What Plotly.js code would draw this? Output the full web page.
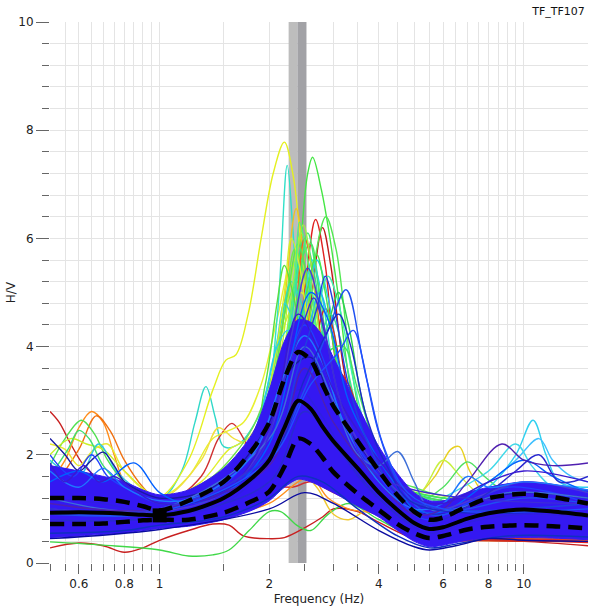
<!DOCTYPE html>
<html>
<head>
<meta charset="utf-8">
<script src="https://cdn.plot.ly/plotly-3.0.1.min.js"></script>
<style>html,body{margin:0;padding:0;background:#fff}#chart{width:589px;height:613px}</style>
</head>
<body>
<div id="chart"></div>
<script>
// ---------------- DATA ----------------
const chartTitle = 'TF_TF107';
const xTickVals = [0.6, 0.8, 1, 2, 4, 6, 8, 10];
const xTickText = ['0.6', '0.8', '1', '2', '4', '6', '8', '10'];
const xMinorVals = [0.5,0.55,0.6,0.65,0.7,0.75,0.8,0.85,0.9,0.95,1,1.5,2,2.5,3,3.5,4,4.5,5,5.5,6,6.5,7,7.5,8,8.5,9,9.5,10];
const yTickVals = [0, 2, 4, 6, 8, 10];

// peak frequency and its standard deviation band (Hz)
const f0 = 2.39;
const f0Min = 2.26;
const f0Max = 2.53;

// average curve and +/- std curves
const statF     = [0.5,0.6,0.7,0.8,0.9,1.0,1.2,1.5,1.8,2.0,2.2,2.4,2.6,2.8,3.0,3.5,4.0,4.5,5.0,5.5,6.0,7.0,8.0,10,12,15];
const meanV     = [0.93,0.94,0.93,0.91,0.89,0.88,0.96,1.2,1.58,1.9,2.5,3.0,2.85,2.52,2.25,1.75,1.3,0.98,0.74,0.63,0.66,0.82,0.92,0.99,0.95,0.88];
const stdUpperV = [1.2,1.2,1.18,1.13,1.05,0.97,1.15,1.5,2.1,2.6,3.4,3.9,3.75,3.3,2.9,2.25,1.7,1.25,0.95,0.8,0.84,1.05,1.2,1.28,1.22,1.1];
const stdLowerV = [0.72,0.72,0.73,0.76,0.79,0.8,0.8,0.93,1.15,1.32,1.78,2.3,2.2,1.95,1.68,1.28,0.98,0.72,0.55,0.46,0.5,0.62,0.67,0.7,0.68,0.64];
const markerF = [1.0];
const markerV = [0.88];

// envelope of the dense cloud of window curves
const bandUpperV = [1.8,1.7,1.6,1.5,1.35,1.26,1.35,1.75,2.4,3.2,4.1,4.5,4.45,4.2,3.8,2.9,2.15,1.65,1.3,1.15,1.15,1.3,1.4,1.5,1.45,1.35];
const bandLowerV = [0.47,0.5,0.53,0.56,0.6,0.64,0.68,0.8,0.98,1.15,1.4,1.55,1.5,1.4,1.3,1.05,0.85,0.6,0.4,0.3,0.33,0.42,0.46,0.47,0.46,0.43];

// individual window curves: [frequency, H/V]
const peakCurves = [
  [[0.5,1.0],[0.8,1.1],[1.0,1.2],[1.2,1.9],[1.4,3.2],[1.52,3.75],[1.62,3.85],[1.75,4.6],[1.9,6.0],[2.05,7.2],[2.2,7.78],[2.32,7.2],[2.45,5.8],[2.6,3.6],[2.8,2.0],[3.1,1.4],[4,1.1],[5,0.8],[6,0.85],[8,1.0],[10,0.95],[15,0.85]],
  [[0.5,0.9],[1,0.9],[1.5,1.0],[2,1.4],[2.25,2.0],[2.35,3.5],[2.45,6.0],[2.55,7.2],[2.63,7.5],[2.78,6.9],[2.92,6.1],[3.1,4.9],[3.4,3.0],[4,1.6],[5,1.0],[6,0.9],[8,1.1],[10,1.1],[15,1.0]],
  [[0.5,1.0],[1,1.0],[1.5,1.3],[1.9,2.4],[2.1,4.5],[2.24,7.35],[2.32,6.2],[2.45,4.0],[2.7,2.8],[3,2.0],[4,1.2],[5,0.8],[8,1.0],[15,1.0]],
  [[0.5,0.8],[1,0.8],[1.5,0.9],[2,1.6],[2.3,3.0],[2.5,5.0],[2.68,6.35],[2.85,5.5],[3.0,4.0],[3.3,2.6],[4,1.3],[5,0.6],[6,0.5],[8,0.5],[10,0.5],[15,0.45]],
  [[0.5,0.8],[1,0.85],[2,1.7],[2.4,3.0],[2.6,4.8],[2.8,6.2],[2.95,5.5],[3.2,3.6],[3.6,2.0],[4,1.4],[5,0.6],[6,0.5],[10,0.5],[15,0.45]],
  [[0.5,1.0],[1,0.95],[2,1.6],[2.4,3.2],[2.65,5.5],[2.86,6.4],[3.05,5.8],[3.3,4.0],[3.6,2.5],[4,1.6],[5,0.9],[6,0.9],[8,1.1],[15,1.0]],
  [[0.5,1.0],[1,1.0],[1.6,1.3],[2.0,2.6],[2.2,4.8],[2.37,6.55],[2.5,5.5],[2.7,3.2],[3,2.0],[4,1.2],[5,0.8],[15,0.8]],
  [[0.5,1.1],[1,1.0],[1.7,1.6],[2.1,3.0],[2.35,5.2],[2.5,6.0],[2.65,5.4],[2.9,3.6],[3.3,2.2],[4,1.3],[5,0.9],[10,1.0],[15,0.9]],
  [[0.5,1.2],[1,1.05],[1.6,1.5],[2.0,3.0],[2.2,4.6],[2.35,5.8],[2.5,5.3],[2.7,3.8],[3,2.6],[4,1.4],[5,1.0],[15,1.0]],
  [[0.5,0.9],[1,0.9],[1.8,1.6],[2.2,3.0],[2.5,4.6],[2.7,5.6],[2.9,4.9],[3.2,3.2],[3.6,2.0],[4.5,1.2],[6,0.9],[15,1.0]],
  [[0.5,1.0],[1,1.0],[1.7,1.7],[2.1,3.5],[2.3,5.3],[2.45,6.1],[2.6,5.2],[2.8,3.6],[3.2,2.1],[4,1.2],[15,0.9]],
  [[0.5,1.0],[1,0.95],[2,1.9],[2.4,3.3],[2.7,4.6],[2.9,5.3],[3.1,4.8],[3.4,3.4],[3.8,2.2],[4.5,1.3],[6,0.9],[15,1.0]],
  [[0.5,0.9],[1,0.9],[2,1.8],[2.5,3.2],[2.9,4.4],[3.1,5.0],[3.3,4.4],[3.6,3.0],[4,2.0],[4.6,1.4],[5.5,1.2],[7,1.1],[15,1.0]],
  [[0.5,1.1],[1,1.0],[1.8,1.9],[2.2,3.8],[2.45,5.6],[2.6,5.9],[2.75,5.0],[3.0,3.4],[3.5,2.2],[4.2,1.6],[5,1.4],[5.5,1.3],[6.5,1.2],[15,1.0]],
  [[0.5,1.0],[1,1.0],[1.9,2.0],[2.25,4.0],[2.45,5.6],[2.6,5.1],[2.9,3.6],[3.3,2.6],[4,1.7],[5,1.3],[6,1.2],[15,1.0]],
  [[0.5,0.85],[1,0.85],[2,1.7],[2.3,3.8],[2.5,6.0],[2.65,5.2],[2.85,3.6],[3.2,2.2],[4,1.1],[5,0.6],[15,0.5]],
  [[0.5,0.9],[1,0.9],[2,1.7],[2.5,3.2],[2.85,4.7],[3.0,4.3],[3.3,2.8],[4,1.3],[5,0.55],[6,0.45],[15,0.4]],
  [[0.5,1.0],[1,1.0],[1.8,1.8],[2.2,3.6],[2.4,5.0],[2.55,6.1],[2.7,5.3],[2.9,3.6],[3.3,2.2],[4,1.4],[5,1.0],[15,1.0]],
  [[0.5,1.0],[1,1.0],[1.7,1.7],[2.05,3.4],[2.25,5.0],[2.4,5.9],[2.55,5.2],[2.75,3.6],[3.1,2.2],[4,1.3],[15,1.0]],
  [[0.5,1.0],[1,1.0],[1.9,1.9],[2.3,3.6],[2.5,4.9],[2.62,5.6],[2.78,5.0],[3.0,3.6],[3.4,2.3],[4,1.5],[5,1.1],[15,1.0]],
  [[0.5,1.0],[1,1.0],[1.7,1.8],[2.0,3.2],[2.15,4.4],[2.3,5.2],[2.45,4.8],[2.7,3.4],[3.1,2.1],[4,1.2],[15,1.0]],
  [[0.5,1.0],[1,1.0],[1.8,1.8],[2.15,3.6],[2.35,5.4],[2.48,6.25],[2.62,5.4],[2.8,3.8],[3.2,2.2],[4,1.3],[15,0.95]],
  [[0.5,1.0],[1,1.0],[2.0,2.0],[2.4,3.6],[2.6,4.5],[2.75,5.0],[2.95,4.3],[3.3,2.8],[3.8,1.8],[4.6,1.2],[15,1.0]],
  [[0.5,1.0],[1,1.0],[1.7,1.9],[1.95,3.1],[2.1,4.1],[2.2,4.8],[2.35,4.4],[2.6,3.3],[3.0,2.2],[4,1.3],[15,1.0]],
  [[0.5,1.0],[1,1.0],[2.0,2.1],[2.35,3.9],[2.55,5.1],[2.7,5.7],[2.85,5.0],[3.1,3.5],[3.5,2.3],[4.2,1.5],[15,1.0]],
  [[0.5,1.0],[1,1.0],[1.8,2.0],[2.05,3.6],[2.2,5.0],[2.3,6.0],[2.42,5.5],[2.6,4.0],[2.9,2.6],[3.5,1.7],[15,0.95]],
  [[0.5,1.0],[1,1.0],[2.1,2.2],[2.5,3.5],[2.8,4.3],[2.95,4.6],[3.15,4.1],[3.5,2.8],[4,1.9],[4.8,1.3],[15,1.0]],
  [[0.5,1.0],[1,1.0],[1.9,2.0],[2.2,3.9],[2.35,5.2],[2.42,6.3],[2.55,5.6],[2.75,3.9],[3.1,2.3],[4,1.3],[15,1.0]],
  [[0.5,1.0],[1,1.0],[2,1.8],[2.5,3.0],[2.9,3.9],[3.2,4.0],[3.5,3.2],[4,2.0],[4.6,1.4],[5.5,1.2],[15,1.0]],
  [[0.5,0.8],[1,0.8],[2,1.5],[2.6,3.0],[3.0,3.6],[3.3,3.3],[3.7,2.2],[4.2,1.4],[5,0.7],[15,0.45]],
  [[0.5,1.0],[1,1.0],[1.6,1.6],[1.9,2.8],[2.1,4.0],[2.25,4.3],[2.4,3.8],[2.7,2.8],[3.2,1.8],[4,1.2],[15,1.0]],
  [[0.5,1.0],[1,1.0],[1.7,1.8],[1.95,3.3],[2.1,4.8],[2.2,5.5],[2.32,5.0],[2.5,3.8],[2.9,2.4],[4,1.3],[15,1.0]]
];
const lowCurves = [
  [[0.5,2.8],[0.53,2.6],[0.57,2.2],[0.62,1.8],[0.7,1.5],[0.8,1.3],[1,1.1],[1.5,1.3],[2,1.8],[2.5,3.0],[3,2.3],[4,1.2],[5,0.6],[6,0.5],[10,0.45],[15,0.4]],
  [[0.5,1.5],[0.55,1.9],[0.6,2.5],[0.65,2.8],[0.7,2.6],[0.75,2.0],[0.8,1.5],[0.9,1.2],[1,1.1],[1.5,1.2],[2,1.8],[2.5,3.0],[3,2.2],[4,1.1],[5,0.6],[6,0.5],[10,0.5],[15,0.45]],
  [[0.5,1.3],[0.6,2.1],[0.67,2.72],[0.73,2.45],[0.8,1.9],[0.9,1.4],[1,1.15],[1.5,1.15],[2,1.7],[2.5,2.8],[3,2.1],[4,1.0],[5,0.55],[15,0.45]],
  [[0.5,1.8],[0.55,2.3],[0.61,2.64],[0.66,2.4],[0.72,1.9],[0.8,1.5],[1,1.15],[1.5,1.2],[2,2.0],[2.5,3.6],[3,2.6],[4,1.4],[5,0.9],[15,0.9]],
  [[0.5,2.0],[0.57,2.3],[0.63,2.2],[0.7,2.1],[0.8,1.7],[1,1.2],[1.5,1.3],[2,2.2],[2.5,4.0],[3,2.8],[4,1.4],[5,0.9],[15,0.9]],
  [[0.5,2.2],[0.55,2.1],[0.6,1.8],[0.66,2.1],[0.72,2.2],[0.8,1.7],[1,1.2],[1.5,1.4],[2,2.4],[2.5,3.8],[3,2.6],[4,1.3],[5,0.9],[15,0.9]],
  [[0.5,1.9],[0.6,1.6],[0.68,2.2],[0.76,1.7],[0.85,1.4],[1,1.15],[1.5,1.3],[2,2.2],[2.5,3.8],[3,2.7],[4,1.5],[5,1.0],[15,1.0]],
  [[0.5,1.6],[0.56,2.1],[0.6,2.45],[0.64,2.3],[0.7,1.8],[0.8,1.4],[1,1.1],[1.5,1.25],[2,2.1],[2.5,3.4],[3,2.5],[4,1.3],[5,0.9],[15,0.9]],
  [[0.5,0.28],[0.6,0.37],[0.7,0.32],[0.8,0.2],[0.9,0.28],[1.0,0.42],[1.2,0.6],[1.4,0.72],[1.55,0.7],[1.7,0.5],[2.0,0.45],[2.2,0.47],[2.5,0.65],[2.8,0.85],[3.0,1.0],[3.5,0.95],[4,0.75],[5,0.45],[6,0.4],[8,0.42],[10,0.4],[15,0.32]],
  [[0.5,0.39],[0.7,0.33],[1.0,0.24],[1.2,0.13],[1.4,0.15],[1.55,0.24],[1.76,0.6],[2.0,0.95],[2.15,0.95],[2.4,0.68],[2.6,0.6],[2.9,0.9],[3.3,1.1],[4,0.8],[5,0.5],[6,0.5],[8,0.55],[15,0.5]]
];
const midCurves = [
  [[0.5,1.2],[0.8,1.1],[1.0,1.15],[1.15,1.7],[1.25,2.6],[1.34,3.26],[1.42,2.7],[1.5,2.15],[1.65,2.2],[1.9,2.8],[2.2,4.0],[2.5,4.5],[2.8,3.5],[3.2,2.2],[4,1.3],[5,0.8],[8,1.0],[15,0.95]],
  [[0.5,1.0],[1,1.05],[1.3,1.6],[1.45,2.3],[1.58,2.58],[1.7,2.3],[1.85,1.8],[2.0,1.5],[2.3,1.4],[2.6,1.5],[3,1.3],[4,0.9],[5,0.5],[8,0.45],[15,0.4]],
  [[0.5,1.1],[1,1.2],[1.2,1.6],[1.4,2.3],[1.55,2.45],[1.7,2.6],[1.9,3.3],[2.1,4.5],[2.3,5.5],[2.5,5.0],[2.7,3.5],[3,2.0],[4,1.1],[5,0.8],[15,0.8]],
  [[0.5,1.0],[1,1.15],[1.3,1.9],[1.45,2.5],[1.6,2.3],[1.8,2.2],[2.0,2.8],[2.3,4.4],[2.5,4.6],[2.8,3.2],[3.2,1.8],[4,1.1],[15,0.8]],
  [[0.5,0.8],[1,0.85],[1.5,0.9],[2,1.1],[2.4,1.5],[2.6,1.6],[2.9,1.2],[3.3,1.0],[4,0.9],[5,0.6],[15,0.5]],
  [[0.5,0.9],[1,0.9],[1.6,1.0],[2.0,1.3],[2.4,1.7],[2.7,1.4],[3.0,0.9],[3.3,0.8],[3.8,1.0],[4.5,0.8],[6,0.6],[15,0.6]],
  [[0.5,1.0],[1,1.1],[1.3,1.5],[1.55,2.1],[1.75,2.3],[1.95,2.9],[2.2,4.4],[2.45,5.0],[2.7,3.6],[3,2.3],[4,1.2],[15,0.9]],
  [[0.5,1.0],[1,1.1],[1.4,1.6],[1.6,2.0],[1.8,2.5],[2.0,3.3],[2.3,5.0],[2.5,5.3],[2.8,3.5],[3.2,2.0],[4,1.2],[15,0.9]]
];
const rightCurves = [
  [[0.5,1.0],[1,1.0],[2,1.8],[2.5,3.0],[3,2.5],[3.5,1.8],[4,1.3],[4.5,1.1],[5,1.2],[5.7,1.6],[6.3,2.1],[6.65,2.15],[7.1,1.7],[8,1.2],[10,1.1],[15,1.0]],
  [[0.5,1.0],[1,1.0],[2,1.7],[2.5,3.2],[3,2.4],[4,1.3],[4.5,1.2],[5.2,1.3],[6.0,1.9],[6.7,1.6],[7.5,1.3],[10,1.2],[15,1.1]],
  [[0.5,1.0],[1,1.0],[2,1.9],[2.5,3.4],[3,2.5],[4,1.4],[5,1.1],[6,1.4],[7,1.87],[7.8,1.6],[9,1.3],[15,1.1]],
  [[0.5,1.0],[1,1.0],[2,1.6],[2.5,2.8],[3,2.2],[4,1.3],[5,0.9],[6,1.0],[8,1.4],[9.5,2.0],[10.6,2.64],[11.5,2.0],[12.5,1.5],[15,1.4]],
  [[0.5,1.0],[1,1.0],[2,1.7],[2.5,3.0],[3,2.3],[4,1.3],[5,0.9],[6,1.1],[8,1.5],[9.5,1.9],[11,2.3],[12,1.9],[13.5,1.6],[15,1.5]],
  [[0.5,1.0],[1,1.0],[2,1.6],[2.5,2.9],[3,2.2],[4,1.2],[5,0.9],[6,1.2],[8,1.7],[9.5,2.2],[10.5,1.8],[12,1.4],[15,1.3]],
  [[0.5,0.8],[1,0.8],[2,1.3],[2.5,2.2],[3,1.6],[4,0.9],[5,0.5],[5.5,0.45],[7,0.45],[10,0.42],[15,0.38]],
  [[0.5,0.8],[1,0.8],[2,1.4],[2.5,2.4],[3,1.7],[4,0.95],[5,0.55],[6,0.5],[8,0.5],[10,0.47],[15,0.42]]
];
const blueCurves = [
  [[0.5,2.3],[0.55,2.0],[0.6,1.7],[0.65,1.9],[0.7,2.05],[0.75,1.8],[0.8,1.5],[0.9,1.3],[1.0,1.2],[1.3,1.3],[1.6,1.7],[2.0,2.6],[2.3,3.6],[2.6,3.8],[3.0,2.9],[4,1.7],[5,1.0],[6,0.9],[8,1.2],[10,1.3],[15,1.2]],
  [[0.5,2.0],[0.58,1.6],[0.65,2.0],[0.72,1.6],[0.8,1.4],[1.0,1.1],[1.3,1.2],[1.7,1.8],[2.1,3.0],[2.5,4.4],[2.8,3.8],[3.2,2.6],[4,1.6],[5,0.9],[5.5,0.8],[7,1.1],[9,1.4],[12,1.3],[15,1.1]],
  [[0.5,1.5],[0.6,1.7],[0.7,1.5],[0.85,1.85],[1.0,1.3],[1.2,1.1],[1.6,1.4],[2.0,2.2],[2.6,5.0],[2.9,4.5],[3.3,3.0],[4,1.9],[4.5,1.4],[5,1.0],[6,0.95],[8,1.5],[10,1.9],[12,1.6],[15,1.3]],
  [[0.5,1.2],[0.7,1.1],[1,0.9],[1.5,1.1],[2,1.9],[2.4,3.2],[2.8,2.7],[3.5,1.6],[4.5,0.9],[5.5,0.55],[7,0.75],[10,0.9],[15,0.85]],
  [[0.5,0.55],[0.8,0.6],[1,0.7],[1.5,0.85],[2,1.2],[2.4,1.6],[2.8,1.5],[3.5,1.0],[4.5,0.5],[5.5,0.28],[6.5,0.35],[9,0.5],[15,0.48]],
  [[0.5,1.0],[1,0.95],[1.5,1.3],[2,2.4],[2.3,4.2],[2.55,5.45],[2.8,4.5],[3.2,2.8],[4,1.7],[5,1.1],[6,1.0],[8,1.3],[10,1.5],[15,1.3]],
  [[0.5,0.9],[1,0.9],[1.5,1.2],[2,1.9],[2.5,3.2],[2.9,4.3],[3.25,5.05],[3.6,3.8],[4,2.4],[4.6,1.4],[5.5,0.9],[7,1.0],[10,1.2],[15,1.1]],
  [[0.5,1.2],[1,1.0],[2,2.3],[2.5,4.0],[3.0,3.0],[3.5,2.0],[4.0,1.8],[4.5,2.06],[5.0,1.5],[5.5,1.0],[6.5,1.0],[9,1.3],[15,1.2]],
  [[0.5,1.1],[1,1.0],[2,1.8],[2.5,3.6],[3,2.6],[4,1.5],[5,0.9],[6,1.0],[7,1.5],[8.7,2.2],[10,1.9],[12,1.8],[15,1.85]],
  [[0.5,0.8],[1,0.85],[2,1.5],[2.5,2.8],[3,2.2],[4,1.2],[5,0.7],[6,0.8],[8,1.3],[9.5,1.7],[11,2.0],[12.5,1.5],[15,1.6]],
  [[0.5,0.45],[1,0.62],[2,1.0],[2.5,1.3],[3,1.1],[4,0.6],[5,0.3],[5.5,0.24],[6.5,0.32],[8,0.45],[10,0.42],[15,0.4]],
  [[0.5,1.7],[0.6,1.4],[0.7,1.75],[0.8,1.4],[1,1.15],[1.3,1.25],[1.8,2.0],[2.2,3.5],[2.5,4.2],[2.8,3.7],[3.2,2.6],[4,1.5],[5,1.0],[6,1.1],[7,1.6],[8,1.4],[10,1.5],[15,1.35]],
  [[0.5,1.85],[0.55,1.5],[0.62,1.8],[0.68,1.5],[0.75,1.6],[0.85,1.35],[1,1.1],[1.5,1.3],[2,2.5],[2.4,4.6],[2.7,4.0],[3.0,3.2],[4,1.9],[5,1.2],[6,1.1],[8,1.5],[10,1.7],[15,1.5]],
  [[0.5,1.0],[1,1.0],[2,2.0],[2.4,3.6],[2.7,4.7],[2.85,5.3],[3.0,4.8],[3.3,3.3],[3.8,2.1],[4.5,1.3],[6,1.0],[15,1.1]],
  [[0.5,1.0],[1,0.95],[2,1.9],[2.5,3.4],[2.85,4.2],[3.1,4.6],[3.35,4.0],[3.7,2.7],[4.2,1.8],[5,1.1],[15,1.0]],
  [[0.5,1.0],[1,1.0],[1.8,1.8],[2.2,3.4],[2.5,4.5],[2.65,4.9],[2.85,4.2],[3.2,2.8],[4,1.6],[15,1.1]],
  [[0.5,0.95],[1,0.95],[2,1.9],[2.6,3.3],[3.1,3.9],[3.4,4.3],[3.7,3.4],[4.1,2.2],[4.8,1.3],[6,1.0],[15,1.0]]
];

// ---------------- STYLE ----------------
const peakColors  = ['#e4f020','#44e644','#30e0c8','#e02020','#c01818','#52e852','#f0c020','#30e090','#70f040','#20c8f0','#b8f030','#40f0b0','#30d050','#58e858','#38e0a8','#f06018','#d03020',
                     '#40e870','#60e050','#30d8d0','#30e0b0','#a0f040','#20b8f0','#30d0e0','#48e848','#d8f028','#40e090','#50f080','#48e060','#d82828','#28d0e8','#58e040'];
const lowColors   = ['#c82020','#ff8c1a','#f07010','#50e050','#c8f028','#e8e830','#30c8e0','#40e070','#c82020','#40d848'];
const midColors   = ['#30d8c8','#d03030','#e8f030','#f0e040','#ff9020','#f0c830','#e0f030','#70e050'];
const rightColors = ['#e8d020','#c8f040','#50e060','#30d0f0','#40c0ff','#40d8e8','#e02020','#ff7020'];
const blueColors  = ['#1a1aa0','#2040ff','#0060ff','#3020e0','#1030c0','#4a3ad8','#2050f0','#3d6fd8','#5020b0','#2a2ad0','#0a0aa0','#1e78ff','#3a1ad0','#2040e0','#1a28c8','#3c2cd8','#2050ff'];
const bandColor = '#3418f2';
const FONT = 'DejaVu Sans, Verdana, sans-serif';

const traces = [];
function addCurves(list, colors, width) {
  list.forEach((pts, i) => {
    traces.push({
      x: pts.map(p => p[0]), y: pts.map(p => p[1]),
      type: 'scatter', mode: 'lines',
      line: {color: colors[i % colors.length], width: width, shape: 'spline', smoothing: 1.0},
      hoverinfo: 'skip', showlegend: false
    });
  });
}
addCurves(lowCurves, lowColors, 1.4);
addCurves(midCurves, midColors, 1.4);
addCurves(rightCurves, rightColors, 1.4);
addCurves(peakCurves, peakColors, 1.4);

traces.push({x: statF, y: bandLowerV, type: 'scatter', mode: 'lines',
  line: {color: bandColor, width: 1, shape: 'spline', smoothing: 0.8}, hoverinfo: 'skip', showlegend: false});
traces.push({x: statF, y: bandUpperV, type: 'scatter', mode: 'lines', fill: 'tonexty', fillcolor: bandColor,
  line: {color: bandColor, width: 1, shape: 'spline', smoothing: 0.8}, hoverinfo: 'skip', showlegend: false});

addCurves(blueCurves, blueColors, 1.4);

[stdUpperV, stdLowerV].forEach(v => traces.push({
  x: statF, y: v, type: 'scatter', mode: 'lines',
  line: {color: '#000', width: 4.5, dash: '14px,8px', shape: 'spline', smoothing: 0.8},
  hoverinfo: 'skip', showlegend: false
}));
traces.push({x: statF, y: meanV, type: 'scatter', mode: 'lines',
  line: {color: '#000', width: 4, shape: 'spline', smoothing: 0.8}, hoverinfo: 'skip', showlegend: false});
traces.push({x: markerF, y: markerV, type: 'scatter', mode: 'markers',
  marker: {symbol: 'square', size: 14, color: '#000'}, hoverinfo: 'skip', showlegend: false});

const gridColor = '#e4e4e4';
const layout = {
  width: 589, height: 613,
  margin: {l: 50, r: 1, t: 22, b: 50},
  paper_bgcolor: '#fff', plot_bgcolor: '#fff',
  font: {family: FONT, size: 12, color: '#222'},
  title: {text: chartTitle, xref: 'container', yref: 'container', x: 0.993, xanchor: 'right', y: 0.982, yanchor: 'middle',
          font: {family: FONT, size: 11, color: '#111'}},
  xaxis: {
    type: 'log', range: [Math.log10(0.5), Math.log10(15)],
    tickmode: 'array', tickvals: xTickVals, ticktext: xTickText,
    ticks: 'outside', ticklen: 10, tickwidth: 1, tickcolor: '#666',
    showgrid: true, gridcolor: gridColor, gridwidth: 1,
    minor: {tickmode: 'array', tickvals: xMinorVals, ticks: 'outside', ticklen: 7, tickcolor: '#666', showgrid: true, gridcolor: gridColor},
    zeroline: false, showline: false,
    tickfont: {family: FONT, size: 12, color: '#222'},
    title: {text: 'Frequency (Hz)', font: {family: FONT, size: 12, color: '#222'}, standoff: 4}
  },
  yaxis: {
    range: [0, 10], tickmode: 'array', tickvals: yTickVals,
    ticks: 'outside', ticklen: 13, tickwidth: 1, tickcolor: '#666',
    showgrid: true, gridcolor: gridColor,
    minor: {dtick: 0.4, ticks: 'outside', ticklen: 7, tickcolor: '#666', showgrid: true, gridcolor: gridColor},
    zeroline: false, showline: false,
    tickfont: {family: FONT, size: 12, color: '#222'},
    title: {text: 'H/V', font: {family: FONT, size: 12, color: '#222'}, standoff: 0}
  },
  shapes: [
    {type: 'rect', layer: 'between', xref: 'x', yref: 'y', x0: f0Min, x1: f0, y0: 0, y1: 10, fillcolor: '#bdbdbd', line: {width: 0}},
    {type: 'rect', layer: 'between', xref: 'x', yref: 'y', x0: f0, x1: f0Max, y0: 0, y1: 10, fillcolor: '#a2a2a6', line: {width: 0}}
  ]
};
Plotly.newPlot('chart', traces, layout, {staticPlot: true, displayModeBar: false});
</script>
</body>
</html>
